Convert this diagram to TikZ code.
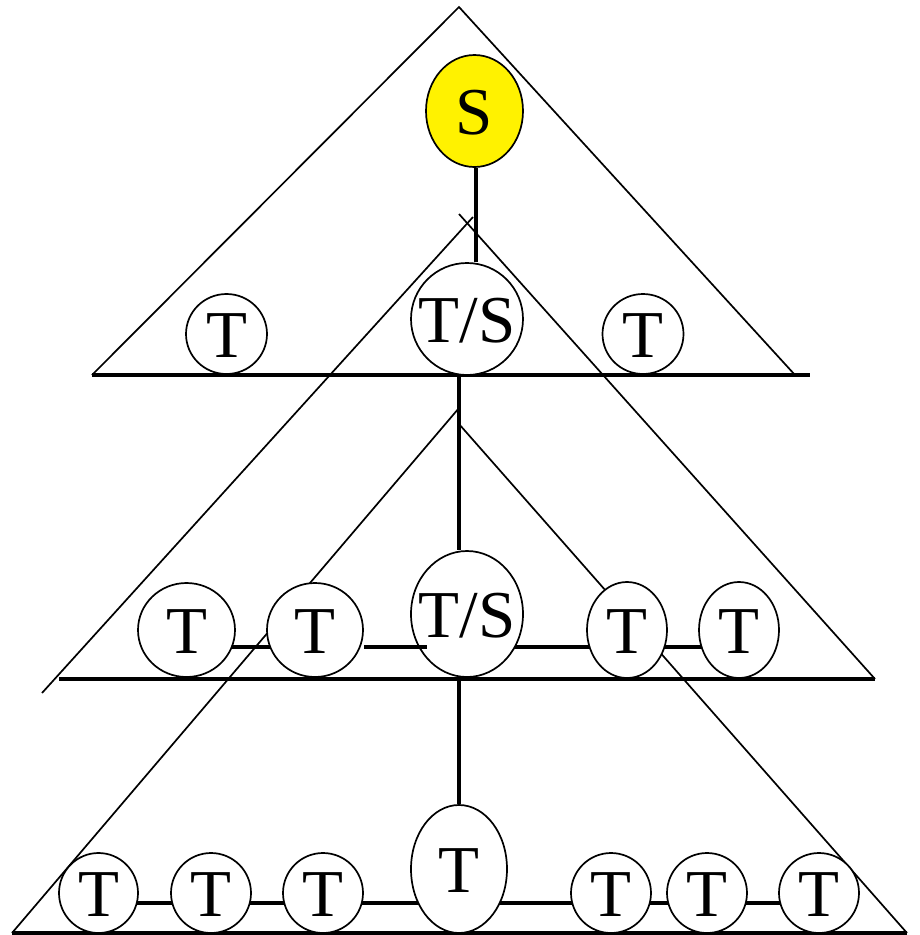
\documentclass[tikz,border=0pt]{standalone}
\usepackage{fontspec}
\setmainfont{Liberation Serif}
\usetikzlibrary{shapes.geometric}
\pgfdeclarelayer{bg}
\pgfsetlayers{bg,main}
\newcommand{\lbl}[1]{\makebox[0pt]{\smash{\raisebox{-0.35em}{#1}}}}
\tikzset{
  tn/.style={ellipse, draw, line width=1.7pt, fill=white, inner sep=0pt,
             font=\fontsize{67}{67}\selectfont},
  small/.style={tn, minimum width=80pt, minimum height=80pt},
  side/.style={line width=1.7pt},
  thick base/.style={line width=3.2pt},
  link/.style={line width=3.2pt}
}
\begin{document}
\begin{tikzpicture}[x=1pt,y=-1pt]
\useasboundingbox (0,0) rectangle (920,935);
% nodes
\node[tn, fill=yellow, minimum width=97pt, minimum height=112pt] (s) at (474.5,111) {\lbl{S}};
\node[tn, minimum width=112pt, minimum height=112pt] (ts1) at (467,319) {\lbl{T/S}};
\node[small, minimum width=81pt] (ta) at (226.5,334) {\lbl{T}};
\node[small, minimum width=81pt] (tb) at (643,334) {\lbl{T}};
\node[tn, minimum width=97pt, minimum height=94pt] (m1) at (186.5,630) {\lbl{T}};
\node[tn, minimum width=96pt, minimum height=94pt] (m2) at (315,630) {\lbl{T}};
\node[tn, minimum width=112pt, minimum height=126pt] (ts2) at (467,614) {\lbl{T/S}};
\node[tn, minimum width=80pt, minimum height=96pt] (m4) at (627,630) {\lbl{T}};
\node[tn, minimum width=80pt, minimum height=96pt] (m5) at (739,630) {\lbl{T}};
\node[small, minimum width=79pt] (b1) at (98.5,893) {\lbl{T}};
\node[small] (b2) at (211,893) {\lbl{T}};
\node[small] (b3) at (323,893) {\lbl{T}};
\node[tn, minimum width=96pt, minimum height=128pt] (big) at (459,869) {\lbl{T}};
\node[small] (b5) at (611,893) {\lbl{T}};
\node[small] (b6) at (707,893) {\lbl{T}};
\node[small] (b7) at (819,893) {\lbl{T}};
\begin{pgfonlayer}{bg}
% triangles
\draw[side] (92,375) -- (459,7) -- (795,375);
\draw[thick base] (92,375) -- (810,375);
\draw[side] (42,693) -- (473,217);
\draw[side] (459,214) -- (875,679);
\draw[thick base] (59,679) -- (875,679);
\draw[side] (12,933) -- (459,408);
\draw[side] (459,424) -- (907,933);
\draw[thick base] (12,933) -- (907,933);
% vertical links
\draw[link] (s.south -| 476,0) -- (ts1.north -| 476,0);
\draw[link] ([xshift=-8pt]ts1.south) -- ([xshift=-8pt]ts1.south |- ts2.north);
\draw[link] (big.north |- ts2.south) -- (big.north);
% middle row links
\draw[link] ([yshift=-17pt]m1.center) -- ([yshift=-17pt]m2.center);
\draw[link] ([yshift=-17pt]m4.center) -- ([yshift=-17pt]m5.center);
\draw[link] ([yshift=-17pt]m4.center) -- ([yshift=-17pt]m4.center -| ts2.center);
% bottom row links
\draw[link] ([yshift=-10pt]b1.center) -- ([yshift=-10pt]b2.center);
\draw[link] ([yshift=-10pt]b2.center) -- ([yshift=-10pt]b3.center);
\draw[link] ([yshift=-10pt]b3.center) -- ([yshift=-10pt]b3.center -| big.center);
\draw[link] ([yshift=-10pt]b5.center) -- ([yshift=-10pt]b5.center -| big.center);
\draw[link] ([yshift=-10pt]b5.center) -- ([yshift=-10pt]b6.center);
\draw[link] ([yshift=-10pt]b6.center) -- ([yshift=-10pt]b7.center);
\end{pgfonlayer}
% link from T to T/S drawn over the T/S border
\draw[link] ([yshift=-17pt]m2.east) -- ([yshift=-17pt,xshift=-40pt]ts2.center |- m2.center);
\end{tikzpicture}
\end{document}
